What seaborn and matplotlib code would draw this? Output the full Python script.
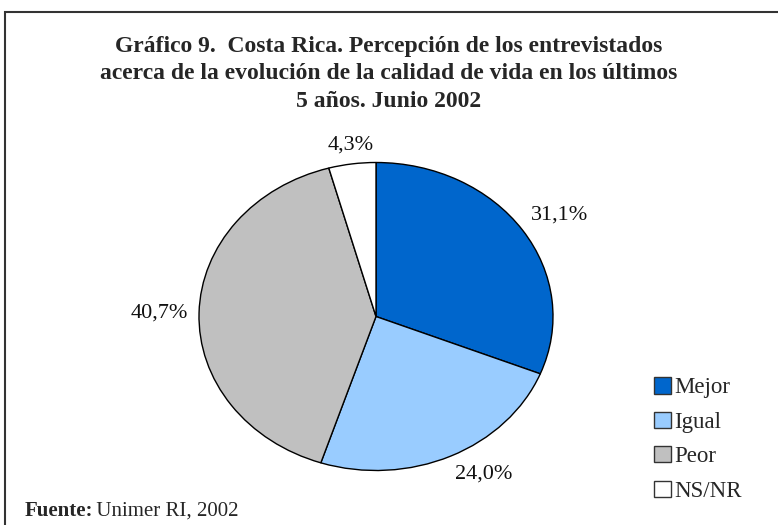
import matplotlib
matplotlib.use('Agg')
import numpy as np
import matplotlib.pyplot as plt
import seaborn as sns
from matplotlib.patches import Rectangle

#_____ data
categorias = ['Mejor', 'Igual', 'Peor', 'NS/NR']
porcentajes = [31.1, 24.0, 40.7, 4.3]
colores = ['#0066CC', '#99CCFF', '#C0C0C0', '#FFFFFF']
titulo = ('Gráfico 9.  Costa Rica. Percepción de los entrevistados\n'
          'acerca de la evolución de la calidad de vida en los últimos\n'
          '5 años. Junio 2002')
fuente_bold = 'Fuente:'
fuente_txt = ' Unimer RI, 2002'

sns.set_theme(style='white')
plt.rcParams['font.family'] = ['Liberation Serif', 'DejaVu Serif']

W, H = 778, 525
fig = plt.figure(figsize=(W / 100, H / 100), dpi=100)
fig.patch.set_facecolor('white')

# frame around the chart (open at the bottom edge of the picture)
fig.patches.append(Rectangle((5 / W, -0.05), 1.2, 1 - 12 / H + 0.05, transform=fig.transFigure,
                             fill=False, edgecolor='#333333', linewidth=1.5))

# pie axes -> elliptical pie
ax = fig.add_axes([(376 - 177) / W, (H - 470.5) / H, 354 / W, 308 / H])
wedges, texts, autotexts = ax.pie(
    porcentajes, colors=colores, startangle=90, counterclock=False,
    autopct=lambda p: f'{p:.1f}%'.replace('.', ','),
    wedgeprops=dict(edgecolor='black', linewidth=1.0),
    textprops=dict(fontsize=16, color='#111111'))
ax.set_xlim(-1, 1)
ax.set_ylim(-1, 1)
ax.set_aspect('auto')

# labels just outside the edge, anchored like Excel does
for w, t in zip(wedges, autotexts):
    ang = np.deg2rad((w.theta1 + w.theta2) / 2)
    c, s = np.cos(ang), np.sin(ang)
    t.set_position((1.06 * c, 1.06 * s))
    t.set_ha('left' if c > 0.3 else ('right' if c < -0.3 else 'center'))
    t.set_va('bottom' if s > 0.3 else ('top' if s < -0.3 else 'center'))

fig.text(0.5, 1 - 36 / H, titulo, ha='center', va='top', fontsize=17, fontweight='bold',
         linespacing=1.4)

fig.legend(wedges, categorias, loc='upper left', bbox_to_anchor=(645 / W, 1 - 368 / H),
           frameon=False, fontsize=16.5, handlelength=0.72, handleheight=0.72,
           handletextpad=0.15, labelspacing=0.58, borderaxespad=0)
for h in fig.legends[0].legend_handles:
    h.set_edgecolor('#333333')
    h.set_linewidth(1.0)

t1 = fig.text(25 / W, 1 - 516 / H, fuente_bold, fontsize=15, fontweight='bold', va='baseline')
fig.canvas.draw()
bb = t1.get_window_extent()
fig.text(bb.x1 / W - 0.003, 1 - 516 / H, fuente_txt, fontsize=15, va='baseline')

fig.savefig('out.png', dpi=100)
